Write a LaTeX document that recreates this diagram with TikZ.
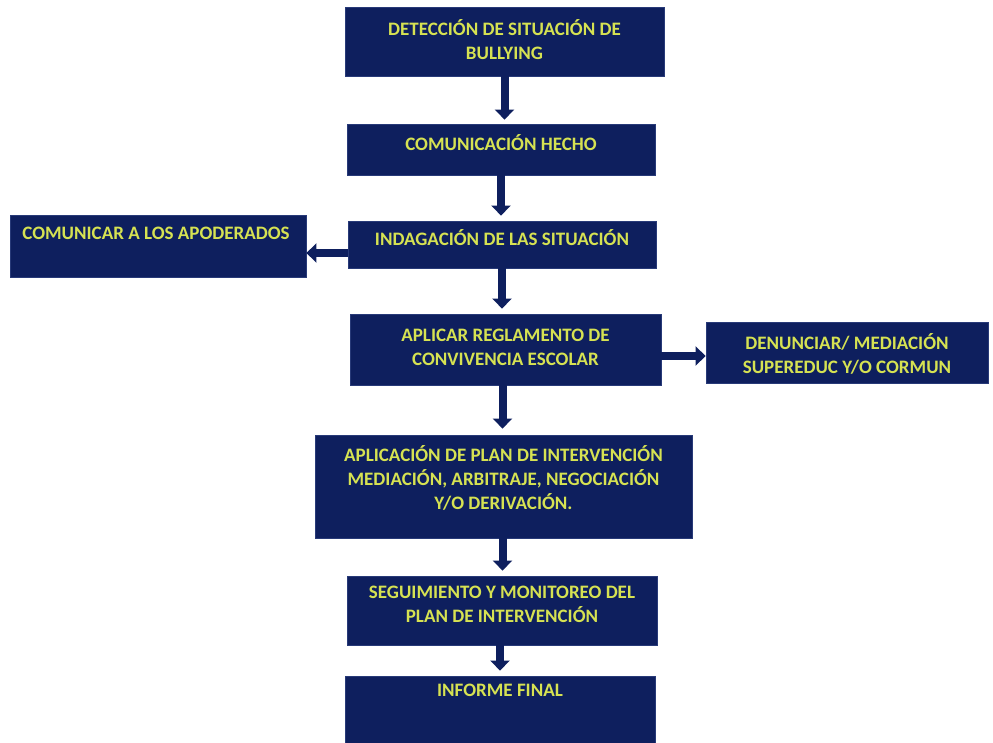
\documentclass[tikz,border=0pt]{standalone}
\usepackage{fontspec}
\setmainfont{Carlito}
\usetikzlibrary{arrows.meta}
\definecolor{navy}{RGB}{14,31,94}
\definecolor{navyedge}{RGB}{40,58,120}
\definecolor{lime}{RGB}{214,226,82}
\tikzset{
  box/.style={rectangle, fill=navy, draw=navyedge, line width=0.8pt, inner sep=0pt},
  lbl/.style={text=lime, font=\bfseries\fontsize{19}{24}\selectfont, align=center, inner sep=0pt},
  flow/.style={draw=navy, line width=8pt, -{Triangle[width=19pt,length=10pt]}}
}
\begin{document}
\begin{tikzpicture}[x=1pt,y=-1pt]
  \useasboundingbox (0,0) rectangle (993,743);
  % boxes
  \node[box, minimum width=319pt, minimum height=69pt]  (b1)  at (504.5,41.5) {};
  \node[box, minimum width=308pt, minimum height=51pt]  (b2)  at (501,149.5) {};
  \node[box, minimum width=308pt, minimum height=47pt]  (b3)  at (502,244.5) {};
  \node[box, minimum width=296pt, minimum height=62pt]  (ap)  at (158,246) {};
  \node[box, minimum width=311pt, minimum height=71pt]  (b4)  at (505.5,349.5) {};
  \node[box, minimum width=282pt, minimum height=61pt]  (den) at (847,352.5) {};
  \node[box, minimum width=377pt, minimum height=103pt] (b5)  at (503.5,486.5) {};
  \node[box, minimum width=310pt, minimum height=69pt]  (b6)  at (502,610.5) {};
  \node[box, minimum width=310pt, minimum height=69pt]  (b7)  at (500,710.5) {};
  % labels
  \node[lbl] (t1)  at (504.5,40)  {DETECCIÓN DE SITUACIÓN DE\\BULLYING};
  \node[lbl] (t2)  at (501,143)   {COMUNICACIÓN HECHO};
  \node[lbl] (t3)  at (502,238)   {INDAGACIÓN DE LAS SITUACIÓN};
  \node[lbl] (tap) at (156,233)   {COMUNICAR A LOS APODERADOS};
  \node[lbl] (t4)  at (505.5,347.5) {APLICAR REGLAMENTO DE\\CONVIVENCIA ESCOLAR};
  \node[lbl] (tden) at (847,353.5) {DENUNCIAR/ MEDIACIÓN\\SUPEREDUC Y/O CORMUN};
  \node[lbl] (t5)  at (503.5,477.5) {APLICACIÓN DE PLAN DE INTERVENCIÓN\\MEDIACIÓN, ARBITRAJE, NEGOCIACIÓN\\Y/O DERIVACIÓN.};
  \node[lbl] (t6)  at (502,604.5) {SEGUIMIENTO Y MONITOREO DEL\\PLAN DE INTERVENCIÓN};
  \node[lbl] (t7)  at (500,690)   {INFORME FINAL};
  % connectors
  \draw[flow, shorten >=4pt] (b1.south) -- (b1.south |- b2.north);
  \draw[flow, shorten >=5pt] (b2.south) -- (b2.south |- b3.north);
  \draw[flow, shorten >=5pt] (b3.south) -- (b3.south |- b4.north);
  \draw[flow, shorten >=6pt] ([xshift=-3pt]b4.south) -- ([xshift=-3pt]b4.south |- b5.north);
  \draw[flow, shorten >=5pt] ([xshift=-1pt]b5.south) -- ([xshift=-1pt]b5.south |- b6.north);
  \draw[flow, shorten >=5pt] ([xshift=-2pt]b6.south) -- ([xshift=-2pt]b6.south |- b7.north);
  \draw[flow, shorten >=0pt] ([yshift=-8.5pt]b3.west) -- ([yshift=-8.5pt]b3.west -| ap.east);
  \draw[flow, shorten >=0pt] ([yshift=-6.5pt]b4.east) -- ([yshift=-6.5pt]b4.east -| den.west);
\end{tikzpicture}
\end{document}
